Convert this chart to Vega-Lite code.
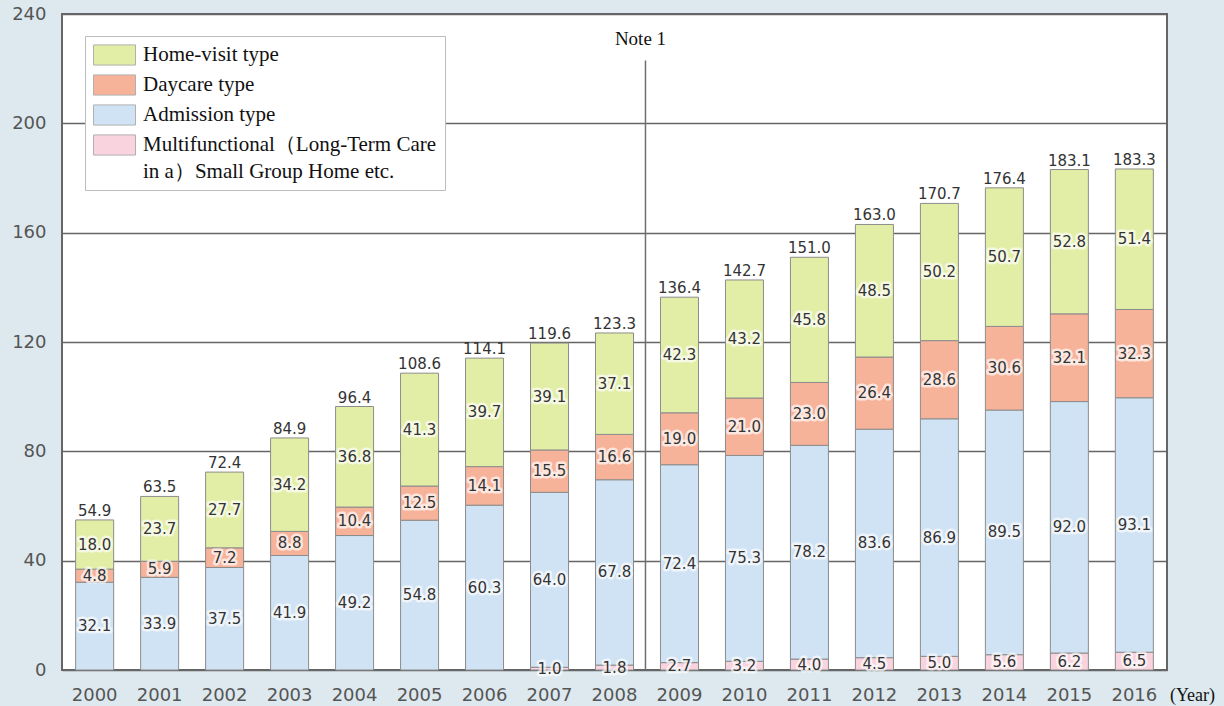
{
  "$schema": "https://vega.github.io/schema/vega-lite/v6.json",
  "width": 1105,
  "height": 656,
  "autosize": {"type": "none"},
  "padding": {"left": 62, "top": 14, "right": 57, "bottom": 36},
  "background": "#dde9ee",
  "config": {
    "view": {"fill": "white", "stroke": "#666666", "strokeWidth": 2},
    "font": "DejaVu Sans"
  },
  "datasets": {
    "care": [
      {"year": "2000", "Multifunctional": null, "Admission type": 32.1, "Daycare type": 4.8, "Home-visit type": 18.0},
      {"year": "2001", "Multifunctional": null, "Admission type": 33.9, "Daycare type": 5.9, "Home-visit type": 23.7},
      {"year": "2002", "Multifunctional": null, "Admission type": 37.5, "Daycare type": 7.2, "Home-visit type": 27.7},
      {"year": "2003", "Multifunctional": null, "Admission type": 41.9, "Daycare type": 8.8, "Home-visit type": 34.2},
      {"year": "2004", "Multifunctional": null, "Admission type": 49.2, "Daycare type": 10.4, "Home-visit type": 36.8},
      {"year": "2005", "Multifunctional": null, "Admission type": 54.8, "Daycare type": 12.5, "Home-visit type": 41.3},
      {"year": "2006", "Multifunctional": null, "Admission type": 60.3, "Daycare type": 14.1, "Home-visit type": 39.7},
      {"year": "2007", "Multifunctional": 1.0, "Admission type": 64.0, "Daycare type": 15.5, "Home-visit type": 39.1},
      {"year": "2008", "Multifunctional": 1.8, "Admission type": 67.8, "Daycare type": 16.6, "Home-visit type": 37.1},
      {"year": "2009", "Multifunctional": 2.7, "Admission type": 72.4, "Daycare type": 19.0, "Home-visit type": 42.3},
      {"year": "2010", "Multifunctional": 3.2, "Admission type": 75.3, "Daycare type": 21.0, "Home-visit type": 43.2},
      {"year": "2011", "Multifunctional": 4.0, "Admission type": 78.2, "Daycare type": 23.0, "Home-visit type": 45.8},
      {"year": "2012", "Multifunctional": 4.5, "Admission type": 83.6, "Daycare type": 26.4, "Home-visit type": 48.5},
      {"year": "2013", "Multifunctional": 5.0, "Admission type": 86.9, "Daycare type": 28.6, "Home-visit type": 50.2},
      {"year": "2014", "Multifunctional": 5.6, "Admission type": 89.5, "Daycare type": 30.6, "Home-visit type": 50.7},
      {"year": "2015", "Multifunctional": 6.2, "Admission type": 92.0, "Daycare type": 32.1, "Home-visit type": 52.8},
      {"year": "2016", "Multifunctional": 6.5, "Admission type": 93.1, "Daycare type": 32.3, "Home-visit type": 51.4}
    ],
    "notes": [
      {"year": "2009", "label": "Note 1"}
    ]
  },
  "layer": [
    {
      "data": {"name": "care"},
      "transform": [
        {"fold": ["Multifunctional", "Admission type", "Daycare type", "Home-visit type"], "as": ["type", "value"]},
        {"filter": "isValid(datum.value)"},
        {"calculate": "indexof(['Multifunctional', 'Admission type', 'Daycare type', 'Home-visit type'], datum.type)", "as": "ord"},
        {"stack": "value", "groupby": ["year"], "sort": [{"field": "ord", "order": "ascending"}], "as": ["v0", "v1"]},
        {"calculate": "(datum.v0 + datum.v1) / 2", "as": "mid"}
      ],
      "encoding": {
        "x": {
          "field": "year",
          "type": "ordinal",
          "scale": {"paddingInner": 0.415, "paddingOuter": 0.21},
          "axis": {
            "title": "(Year)",
            "titleFont": "Liberation Serif",
            "titleFontSize": 18,
            "titleFontWeight": "normal",
            "titleColor": "#111111",
            "titleX": 1130,
            "titleY": 25,
            "titleAlign": "center",
            "titleBaseline": "middle",
            "labelAngle": 0,
            "labelFont": "DejaVu Sans",
            "labelFontSize": 18,
            "labelColor": "#555555",
            "labelBaseline": "middle",
            "labelPadding": 25,
            "ticks": false,
            "tickSize": 0,
            "domain": false
          }
        }
      },
      "layer": [
        {
          "mark": {"type": "bar", "stroke": "#8c8c8c", "strokeWidth": 1},
          "encoding": {
            "y": {
              "field": "v0",
              "type": "quantitative",
              "scale": {"domain": [0, 240], "nice": false},
              "axis": {
                "title": null,
                "values": [0, 40, 80, 120, 160, 200, 240],
                "labelFont": "DejaVu Sans",
                "labelFontSize": 18,
                "labelColor": "#555555",
                "labelPadding": 16,
                "ticks": false,
                "tickSize": 0,
                "domain": false,
                "gridColor": "#666666",
                "gridWidth": 1.5
              }
            },
            "y2": {"field": "v1"},
            "color": {
              "field": "type",
              "type": "nominal",
              "scale": {
                "domain": ["Home-visit type", "Daycare type", "Admission type", "Multifunctional"],
                "range": ["#e2eea6", "#f7b29a", "#cfe3f4", "#f9d3de"]
              },
              "legend": {
                "title": null,
                "orient": "none",
                "legendX": 23,
                "legendY": 22,
                "padding": 8,
                "fillColor": "white",
                "strokeColor": "#bdbdbd",
                "symbolType": "M-1,-0.96H3V0.96H-1Z",
                "symbolSize": 441,
                "symbolStrokeColor": "#b0b0b0",
                "symbolStrokeWidth": 1,
                "symbolOpacity": 1,
                "labelFont": "Liberation Serif",
                "labelFontSize": 21,
                "labelColor": "#111111",
                "labelOffset": 28,
                "labelLimit": 0,
                "rowPadding": 4,
                "labelExpr": "datum.label == 'Multifunctional' ? ['Multifunctional（Long-Term Care', 'in a）Small Group Home etc.'] : datum.label",
                "encode": {
                  "labels": {"update": {"lineHeight": {"value": 27}}}
                }
              }
            }
          }
        },
        {
          "mark": {"type": "text", "font": "DejaVu Sans", "fontSize": 15, "fill": "white", "stroke": "white", "strokeWidth": 5, "strokeJoin": "round", "strokeOpacity": 0.8, "opacity": 0.85},
          "encoding": {
            "y": {"field": "mid", "type": "quantitative"},
            "text": {"field": "value", "type": "quantitative", "format": ".1f"}
          }
        },
        {
          "mark": {"type": "text", "font": "DejaVu Sans", "fontSize": 15, "fill": "#333333"},
          "encoding": {
            "y": {"field": "mid", "type": "quantitative"},
            "text": {"field": "value", "type": "quantitative", "format": ".1f"}
          }
        }
      ]
    },
    {
      "data": {"name": "care"},
      "transform": [
        {"fold": ["Multifunctional", "Admission type", "Daycare type", "Home-visit type"], "as": ["type", "value"]},
        {"filter": "isValid(datum.value)"},
        {"aggregate": [{"op": "sum", "field": "value", "as": "total"}], "groupby": ["year"]}
      ],
      "mark": {"type": "text", "font": "DejaVu Sans", "fontSize": 15, "fill": "#333333", "baseline": "bottom", "dy": -1},
      "encoding": {
        "x": {"field": "year", "type": "ordinal"},
        "y": {"field": "total", "type": "quantitative"},
        "text": {"field": "total", "type": "quantitative", "format": ".1f"}
      }
    },
    {
      "data": {"name": "notes"},
      "mark": {"type": "rule", "color": "#6f6f6f", "strokeWidth": 1.5, "xOffset": -15},
      "encoding": {
        "x": {"field": "year", "type": "ordinal", "bandPosition": 0},
        "y": {"datum": 0, "type": "quantitative"},
        "y2": {"datum": 223}
      }
    },
    {
      "data": {"name": "notes"},
      "mark": {"type": "text", "font": "Liberation Serif", "fontSize": 19, "fill": "#111111", "align": "center", "baseline": "middle", "xOffset": -20},
      "encoding": {
        "x": {"field": "year", "type": "ordinal", "bandPosition": 0},
        "y": {"datum": 231, "type": "quantitative"},
        "text": {"field": "label"}
      }
    }
  ]
}
